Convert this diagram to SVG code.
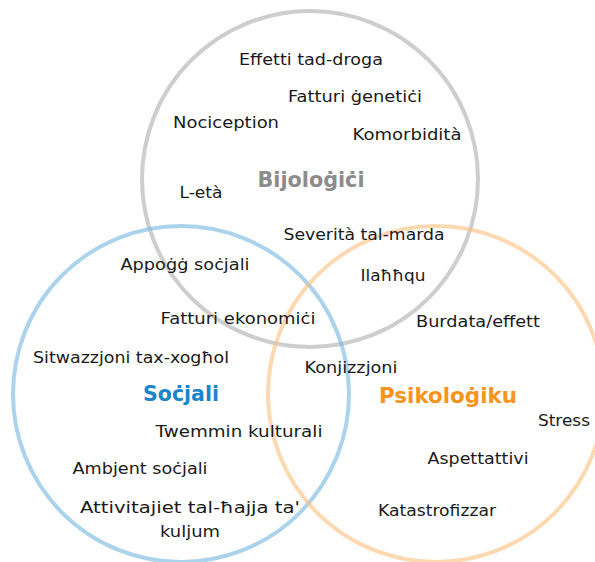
<svg xmlns="http://www.w3.org/2000/svg" width="595" height="562" viewBox="0 0 595 562">
<style>
.c{fill:none;stroke-width:4}
.t{font-family:"DejaVu Sans","Open Sans",sans-serif;font-size:15.5px;fill:#1a1a1a;text-anchor:middle}
.h{font-family:"DejaVu Sans","Open Sans",sans-serif;font-size:21px;font-weight:bold;text-anchor:middle}
</style>
<rect width="595" height="562" fill="#ffffff"/>
<g id="circles">
<circle id="bio" class="c" cx="310" cy="179" r="168" stroke="#b4b4b4" stroke-opacity="0.65"/>
<circle id="soc" class="c" cx="181" cy="394" r="168" stroke="#7fbbe2" stroke-opacity="0.65"/>
<circle id="psy" class="c" cx="436" cy="394" r="168" stroke="#fbbf7d" stroke-opacity="0.6"/>
</g>
<g id="labels">
<text class="h" x="311" y="187" fill="#8c8c8c" textLength="107" lengthAdjust="spacingAndGlyphs">Bijoloġiċi</text>
<text class="h" x="181" y="401" fill="#1a85c8" textLength="76" lengthAdjust="spacingAndGlyphs">Soċjali</text>
<text class="h" x="448" y="403" fill="#f7941d" textLength="138" lengthAdjust="spacingAndGlyphs">Psikoloġiku</text>
</g>
<g id="items">
<text class="t" x="311" y="65" textLength="144" lengthAdjust="spacingAndGlyphs">Effetti tad-droga</text>
<text class="t" x="355" y="102" textLength="134" lengthAdjust="spacingAndGlyphs">Fatturi ġenetiċi</text>
<text class="t" x="226" y="128" textLength="106" lengthAdjust="spacingAndGlyphs">Nociception</text>
<text class="t" x="407" y="140" textLength="109" lengthAdjust="spacingAndGlyphs">Komorbidità</text>
<text class="t" x="201" y="198" textLength="43" lengthAdjust="spacingAndGlyphs">L-età</text>
<text class="t" x="364" y="240" textLength="161" lengthAdjust="spacingAndGlyphs">Severità tal-marda</text>
<text class="t" x="185" y="270" textLength="129" lengthAdjust="spacingAndGlyphs">Appoġġ soċjali</text>
<text class="t" x="393" y="281" textLength="65" lengthAdjust="spacingAndGlyphs">Ilaħħqu</text>
<text class="t" x="238" y="324" textLength="155" lengthAdjust="spacingAndGlyphs">Fatturi ekonomiċi</text>
<text class="t" x="478" y="327" textLength="124" lengthAdjust="spacingAndGlyphs">Burdata/effett</text>
<text class="t" x="131" y="363" textLength="196" lengthAdjust="spacingAndGlyphs">Sitwazzjoni tax-xogħol</text>
<text class="t" x="351" y="373" textLength="93" lengthAdjust="spacingAndGlyphs">Konjizzjoni</text>
<text class="t" x="564" y="426" textLength="52" lengthAdjust="spacingAndGlyphs">Stress</text>
<text class="t" x="239" y="437" textLength="167" lengthAdjust="spacingAndGlyphs">Twemmin kulturali</text>
<text class="t" x="478" y="464" textLength="101" lengthAdjust="spacingAndGlyphs">Aspettattivi</text>
<text class="t" x="140" y="474" textLength="135" lengthAdjust="spacingAndGlyphs">Ambjent soċjali</text>
<text class="t" x="437" y="516" textLength="118" lengthAdjust="spacingAndGlyphs">Katastrofizzar</text>
<text class="t" x="190" y="513" textLength="220" lengthAdjust="spacingAndGlyphs">Attivitajiet tal-ħajja ta'</text>
<text class="t" x="190" y="537" textLength="60" lengthAdjust="spacingAndGlyphs">kuljum</text>
</g>
</svg>
